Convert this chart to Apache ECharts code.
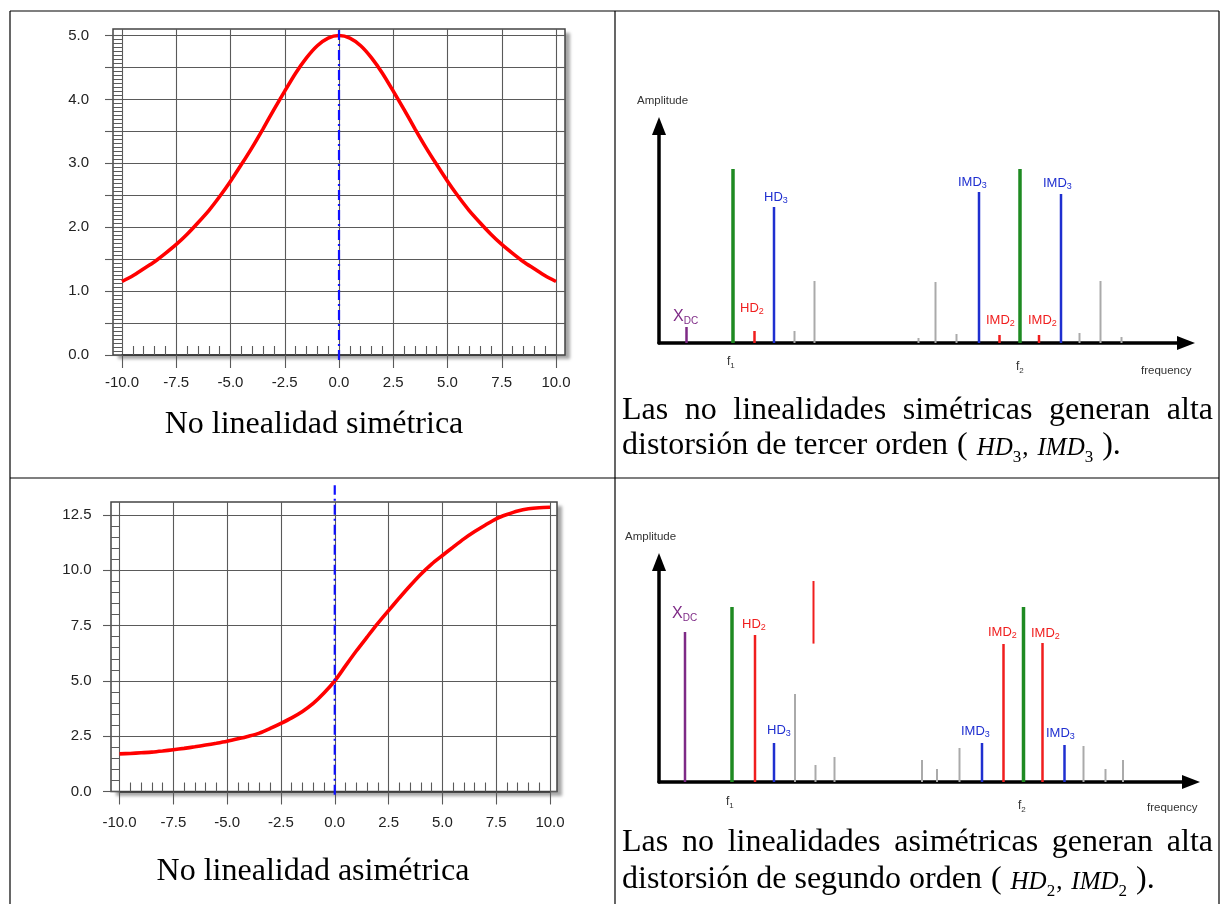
<!DOCTYPE html>
<html>
<head>
<meta charset="utf-8">
<script src="https://cdn.jsdelivr.net/npm/echarts@6/dist/echarts.min.js"></script>
<style>
  html, body { margin: 0; padding: 0; background: #fff; }
  #chart { width: 1221px; height: 904px; }
</style>
</head>
<body>
<div id="chart"></div>
<script>
// ---- transfer curves (input x, output y) ----
const xSamples = [
  -10, -9.5, -9, -8.5, -8, -7.5, -7, -6.5, -6, -5.5, -5, -4.5, -4, -3.5, -3, -2.5, -2, -1.5, -1, -0.5,
  0, 0.5, 1, 1.5, 2, 2.5, 3, 3.5, 4, 4.5, 5, 5.5, 6, 6.5, 7, 7.5, 8, 8.5, 9, 9.5, 10
];
const symmetricCurve = [
  1.15, 1.24, 1.35, 1.46, 1.59, 1.73, 1.89, 2.07, 2.26, 2.48, 2.72, 2.98, 3.25, 3.54, 3.84, 4.13, 4.41, 4.65, 4.84, 4.96,
  5.00, 4.96, 4.84, 4.65, 4.41, 4.13, 3.84, 3.54, 3.25, 2.98, 2.72, 2.48, 2.26, 2.07, 1.89, 1.73, 1.59, 1.46, 1.35, 1.24, 1.15
];
const asymmetricCurve = [
  1.70, 1.72, 1.75, 1.78, 1.83, 1.89, 1.95, 2.02, 2.10, 2.18, 2.27, 2.38, 2.50, 2.64, 2.85, 3.08, 3.33, 3.62, 3.98, 4.45,
  5.00, 5.68, 6.35, 6.98, 7.60, 8.18, 8.75, 9.30, 9.82, 10.28, 10.67, 11.05, 11.42, 11.75, 12.05, 12.33, 12.52, 12.68, 12.78, 12.83, 12.85
];
// operating point marker (x = 0), spanning slightly past the plot
const symMarker = [[0, -0.08], [0, 5.09]];
const asymMarker = [[0, -0.15], [0, 13.85]];

// tick labels
const xTickLabels = ['-10.0', '-7.5', '-5.0', '-2.5', '0.0', '2.5', '5.0', '7.5', '10.0'];
const symYTickLabels = ['0.0', '1.0', '2.0', '3.0', '4.0', '5.0'];
const asymYTickLabels = ['0.0', '2.5', '5.0', '7.5', '10.0', '12.5'];

// ---- output spectra: [frequency, amplitude] ----
const symDC = [[5.5, 8]];
const symFundamentals = [[14.8, 87], [72.2, 87]];
const symSecondOrder = [[19.1, 6], [68.1, 4], [76.0, 4]];
const symThirdOrder = [[23.0, 68], [64.0, 75.5], [80.4, 74.5]];
const symSpurs = [[27.1, 6], [31.1, 31], [51.9, 2.5], [55.3, 30.5], [59.5, 4.5], [84.1, 5], [88.3, 31], [92.5, 3]];

const asymDC = [[5.2, 75]];
const asymFundamentals = [[14.6, 87.5], [72.9, 87.5]];
const asymSecondOrder = [[19.2, 73.5], [68.9, 69], [76.7, 69.5]];
const asymSecondOrderFloat = [[30.9, 100.5, 69.2]]; // [frequency, top, bottom]
const asymThirdOrder = [[23.0, 19.5], [64.6, 19.5], [81.1, 18.5]];
const asymSpurs = [[27.2, 44], [31.3, 8.5], [35.1, 12.5], [52.6, 11], [55.6, 6.5], [60.1, 17], [84.9, 18], [89.3, 6.5], [92.8, 11]];

// ---- texts ----
const captionSym = 'No linealidad simétrica';
const captionAsym = 'No linealidad asimétrica';
const noteSymLine1 = 'Las no linealidades simétricas generan alta';
const noteSymLine2 = ['distorsión de tercer orden', '(', 'HD', '3', ',', 'IMD', '3', ').'];
const noteAsymLine1 = 'Las no linealidades asimétricas generan alta';
const noteAsymLine2 = ['distorsión de segundo orden', '(', 'HD', '2', ',', 'IMD', '2', ').'];

// ---- colours ----
const C_GREEN = '#1e8a22';
const C_RED = '#f01e1e';
const C_BLUE = '#1f2fd0';
const C_PURPLE = '#7e2a86';
const C_GRAY = '#aaaaaa';
const GRID_COL = '#5a5a5a';
const SANS = '"Liberation Sans", Arial, sans-serif';
const SERIF = '"Liberation Serif", "Times New Roman", serif';

const zipXY = (xs, ys) => xs.map((x, i) => [x, ys[i]]);

function labelFrom(list, v, step, start) {
  const i = Math.round((v - start) / step);
  return Math.abs(start + i * step - v) < 1e-6 && list[i] !== undefined ? list[i] : '';
}

const option = {
  animation: false,
  backgroundColor: '#fff',
  grid: [],
  xAxis: [],
  yAxis: [],
  series: [],
  graphic: []
};

function hiddenAxes(gi) {
  option.xAxis.push({ gridIndex: gi, type: 'value', show: false, min: 0, max: 1 });
  option.yAxis.push({ gridIndex: gi, type: 'value', show: false, min: 0, max: 1 });
}

// ---- transfer-curve panels ----
function addCurvePanel(cfg) {
  const box = { left: cfg.frame[0], top: cfg.frame[1], width: cfg.frame[2] - cfg.frame[0], height: cfg.frame[3] - cfg.frame[1] };
  const gShadow = option.grid.length, gBorder = gShadow + 1, gData = gShadow + 2;
  option.grid.push(
    // white panel casting a soft drop shadow
    Object.assign({ show: true, backgroundColor: '#fff', borderWidth: 0,
      shadowColor: 'rgba(0,0,0,0.35)', shadowBlur: 3, shadowOffsetX: 5, shadowOffsetY: 4, z: 0 }, box),
    // plain frame outline
    Object.assign({ show: true, backgroundColor: 'transparent', borderColor: '#444', borderWidth: 1.5, z: 1 }, box),
    { left: cfg.data[0], top: cfg.data[1], width: cfg.data[2] - cfg.data[0], height: cfg.data[3] - cfg.data[1], z: 1 }
  );
  hiddenAxes(gShadow);
  hiddenAxes(gBorder);
  const xi = option.xAxis.length, yi = option.yAxis.length;
  const tickStyle = { color: GRID_COL, width: 1.1 };
  const labelStyle = { color: '#222', fontSize: 15, fontFamily: SANS };
  const noLine = { show: false, onZero: false };
  // main x axis
  option.xAxis.push({
    gridIndex: gData, type: 'value', position: 'bottom', min: -10, max: 10, interval: 2.5, z: 3,
    axisLine: { show: true, onZero: false, lineStyle: { color: '#333', width: 1.5 } },
    axisTick: { show: true, length: 13, lineStyle: tickStyle },
    axisLabel: Object.assign({ margin: cfg.xLabelMargin, formatter: v => labelFrom(xTickLabels, v, 2.5, -10) }, labelStyle),
    splitLine: { show: true, lineStyle: tickStyle }
  });
  // vertical grid lines continue up to the frame
  option.xAxis.push({
    gridIndex: gData, type: 'value', position: 'top', min: -10, max: 10, interval: 2.5, z: 3,
    axisLine: noLine, axisLabel: { show: false }, splitLine: { show: false },
    axisTick: { show: true, length: cfg.data[1] - cfg.frame[1], lineStyle: tickStyle }
  });
  // short inner ticks along the bottom
  option.xAxis.push({
    gridIndex: gData, type: 'value', position: 'bottom', min: -10, max: 10, interval: 2.5, z: 3,
    axisLine: noLine, axisLabel: { show: false }, splitLine: { show: false },
    axisTick: { show: false, inside: true },
    minorTick: { show: true, splitNumber: 5, length: 9, lineStyle: tickStyle }
  });
  // main y axis with the ladder of minor ticks
  option.yAxis.push({
    gridIndex: gData, type: 'value', position: 'left', min: 0, max: cfg.yMax, interval: cfg.yInterval, z: 3,
    axisLine: noLine,
    axisTick: { show: true, length: cfg.data[0] - cfg.frame[0] + 8, lineStyle: tickStyle },
    minorTick: { show: true, splitNumber: cfg.yMinorSplit, length: cfg.data[0] - cfg.frame[0], lineStyle: { color: GRID_COL, width: 1 } },
    axisLabel: Object.assign({ margin: cfg.yLabelMargin, formatter: v => labelFrom(cfg.yLabels, v, cfg.yLabelStep, 0) }, labelStyle),
    splitLine: { show: true, lineStyle: tickStyle }
  });
  // horizontal grid lines continue to the right frame
  option.yAxis.push({
    gridIndex: gData, type: 'value', position: 'right', min: 0, max: cfg.yMax, interval: cfg.yInterval, z: 3,
    axisLine: noLine, axisLabel: { show: false }, splitLine: { show: false },
    axisTick: { show: true, length: cfg.frame[2] - cfg.data[2], lineStyle: tickStyle }
  });
  option.series.push({
    type: 'line', xAxisIndex: xi, yAxisIndex: yi, data: zipXY(xSamples, cfg.curve),
    showSymbol: false, smooth: 0.25, clip: false, z: 5,
    lineStyle: { color: '#ff0000', width: 3.6 }
  });
  option.series.push({
    type: 'line', xAxisIndex: xi, yAxisIndex: yi, data: cfg.marker,
    showSymbol: false, clip: false, z: 6,
    lineStyle: { color: '#1010ff', width: 2.2, type: [10, 4, 2, 4] }
  });
}

addCurvePanel({
  frame: [113, 29, 565, 355], data: [122, 35.5, 556, 355],
  yMax: 5, yInterval: 0.5, yMinorSplit: 8, yLabels: symYTickLabels, yLabelStep: 1,
  xLabelMargin: 20, yLabelMargin: 33, curve: symmetricCurve, marker: symMarker
});
addCurvePanel({
  frame: [111, 502, 557, 791.5], data: [119.5, 515, 550, 791.5],
  yMax: 12.5, yInterval: 2.5, yMinorSplit: 5, yLabels: asymYTickLabels, yLabelStep: 2.5,
  xLabelMargin: 24, yLabelMargin: 28, curve: asymmetricCurve, marker: asymMarker
});

// ---- spectrum panels ----
function stemRenderer(color, width, floating) {
  return function (params, api) {
    const f = api.value(0);
    const top = api.value(1);
    const bottom = floating ? api.value(2) : 0;
    const p0 = api.coord([f, bottom]);
    const p1 = api.coord([f, top]);
    return {
      type: 'line',
      shape: { x1: p0[0], y1: p0[1], x2: p1[0], y2: p1[1] },
      style: { stroke: color, lineWidth: width }
    };
  };
}

function addSpectrumPanel(cfg) {
  const gi = option.grid.length;
  option.grid.push({ left: cfg.left, top: cfg.top, width: cfg.width, height: cfg.height });
  const xi = option.xAxis.length, yi = option.yAxis.length;
  const axisLine = {
    show: true, onZero: false, symbol: ['none', 'triangle'], symbolSize: [14, 18],
    lineStyle: { color: '#000', width: 3.5 }
  };
  option.xAxis.push({ gridIndex: gi, type: 'value', min: 0, max: cfg.fMax, axisLine,
    axisTick: { show: false }, axisLabel: { show: false }, splitLine: { show: false } });
  option.yAxis.push({ gridIndex: gi, type: 'value', min: 0, max: cfg.aMax, axisLine,
    axisTick: { show: false }, axisLabel: { show: false }, splitLine: { show: false } });
  const groups = [
    [cfg.spurs, C_GRAY, 2],
    [cfg.dc, C_PURPLE, 2.5],
    [cfg.second, C_RED, 2.5],
    [cfg.third, C_BLUE, 2.5],
    [cfg.fund, C_GREEN, 3.5]
  ];
  groups.forEach(([data, color, w]) => {
    option.series.push({
      type: 'custom', xAxisIndex: xi, yAxisIndex: yi, data, clip: false, z: 4,
      encode: { x: 0, y: 1 }, renderItem: stemRenderer(color, w, false)
    });
  });
  if (cfg.floating) {
    option.series.push({
      type: 'custom', xAxisIndex: xi, yAxisIndex: yi, data: cfg.floating, clip: false, z: 4,
      encode: { x: 0, y: [1, 2] }, renderItem: stemRenderer(C_RED, 2, true)
    });
  }
}

addSpectrumPanel({
  left: 659, top: 126, width: 527, height: 217, fMax: 105.4, aMax: 108.5,
  spurs: symSpurs, dc: symDC, second: symSecondOrder, third: symThirdOrder, fund: symFundamentals
});
addSpectrumPanel({
  left: 659, top: 562, width: 532, height: 220, fMax: 106.4, aMax: 110,
  spurs: asymSpurs, dc: asymDC, second: asymSecondOrder, third: asymThirdOrder, fund: asymFundamentals,
  floating: asymSecondOrderFloat
});

// ---- annotations ----
function subText(x, y, main, sub, color, size, subSize) {
  return {
    type: 'text', x, y, z: 10,
    style: {
      text: '{m|' + main + '}{s|' + sub + '}', fill: color, verticalAlign: 'middle',
      rich: {
        m: { fontSize: size, fontFamily: SANS, lineHeight: size + 3, verticalAlign: 'middle' },
        s: { fontSize: subSize, fontFamily: SANS, lineHeight: 6, verticalAlign: 'bottom' }
      }
    }
  };
}
function plainText(x, y, text, color, size) {
  return { type: 'text', x, y, z: 10,
    style: { text, fill: color, fontSize: size, fontFamily: SANS, verticalAlign: 'middle' } };
}

option.graphic.push(
  plainText(637, 101, 'Amplitude', '#333', 11.5),
  subText(673, 317, 'X', 'DC', C_PURPLE, 16, 10),
  subText(740, 308, 'HD', '2', C_RED, 13, 9),
  subText(764, 197, 'HD', '3', C_BLUE, 13, 9),
  subText(958, 182, 'IMD', '3', C_BLUE, 13, 9),
  subText(986, 320, 'IMD', '2', C_RED, 13, 9),
  subText(1028, 320, 'IMD', '2', C_RED, 13, 9),
  subText(1043, 183, 'IMD', '3', C_BLUE, 13, 9),
  subText(727, 362, 'f', '1', '#333', 12, 8),
  subText(1016, 367, 'f', '2', '#333', 12, 8),
  plainText(1141, 371, 'frequency', '#333', 11.5),

  plainText(625, 537, 'Amplitude', '#333', 11.5),
  subText(672, 614, 'X', 'DC', C_PURPLE, 16, 10),
  subText(742, 624, 'HD', '2', C_RED, 13, 9),
  subText(767, 730, 'HD', '3', C_BLUE, 13, 9),
  subText(961, 731, 'IMD', '3', C_BLUE, 13, 9),
  subText(988, 632, 'IMD', '2', C_RED, 13, 9),
  subText(1031, 633, 'IMD', '2', C_RED, 13, 9),
  subText(1046, 733, 'IMD', '3', C_BLUE, 13, 9),
  subText(726, 802, 'f', '1', '#333', 12, 8),
  subText(1018, 806, 'f', '2', '#333', 12, 8),
  plainText(1147, 808, 'frequency', '#333', 11.5)
);

// captions under the transfer curves
const CAP_SIZE = 32;
option.graphic.push(
  { type: 'text', x: 314, y: 425, z: 10,
    style: { text: captionSym, fill: '#000', fontSize: CAP_SIZE, fontFamily: SERIF, align: 'center', verticalAlign: 'middle' } },
  { type: 'text', x: 313, y: 872, z: 10,
    style: { text: captionAsym, fill: '#000', fontSize: CAP_SIZE, fontFamily: SERIF, align: 'center', verticalAlign: 'middle' } }
);

// notes: justified first line, then a line with an inline formula
const measureCtx = document.createElement('canvas').getContext('2d');
function textWidth(t, size, italic) {
  measureCtx.font = (italic ? 'italic ' : '') + size + 'px ' + SERIF;
  return measureCtx.measureText(t).width;
}
function serifText(x, y, text, size, italic) {
  return { type: 'text', x, y, z: 10,
    style: { text, fill: '#000', fontSize: size, fontFamily: SERIF, fontStyle: italic ? 'italic' : 'normal', verticalAlign: 'middle' } };
}
function justifiedLine(text, x0, x1, y, size) {
  const words = text.split(' ');
  const widths = words.map(w => textWidth(w, size));
  const total = widths.reduce((a, b) => a + b, 0);
  const gap = (x1 - x0 - total) / (words.length - 1);
  let x = x0;
  return words.map((w, i) => {
    const el = serifText(x, y, w, size);
    x += widths[i] + gap;
    return el;
  });
}
// middle-anchored text: baseline sits about 0.34 em below the anchor
const MID_TO_BASE = 0.34;
function formulaLine(parts, x0, y, size) {
  const itSize = 25, subSize = 17, space = size * 0.28;
  const [lead, open, a, aSub, comma, b, bSub, close] = parts;
  const out = [];
  let x = x0;
  const put = (t, s, italic, dy, gapAfter) => {
    out.push(serifText(x, y + dy, t, s, italic));
    x += textWidth(t, s, italic) + gapAfter;
  };
  const itDy = MID_TO_BASE * (size - itSize);
  const subDy = MID_TO_BASE * (size - subSize) + 6;
  put(lead, size, false, 0, space);
  put(open, size, false, 0, space);
  put(a, itSize, true, itDy, 0);
  put(aSub, subSize, false, subDy, 1);
  put(comma, itSize, false, itDy, space);
  put(b, itSize, true, itDy, 0);
  put(bSub, subSize, false, subDy, space);
  put(close, size, false, 0, 0);
  return out;
}
option.graphic.push(
  ...justifiedLine(noteSymLine1, 622, 1213, 411, CAP_SIZE),
  ...formulaLine(noteSymLine2, 622, 446, CAP_SIZE),
  ...justifiedLine(noteAsymLine1, 622, 1213, 843, CAP_SIZE),
  ...formulaLine(noteAsymLine2, 622, 880, CAP_SIZE)
);

// table rules
const rule = (x1, y1, x2, y2) => ({ type: 'line', z: 10, shape: { x1, y1, x2, y2 }, style: { stroke: '#000', lineWidth: 1.2 } });
option.graphic.push(
  rule(10, 11, 1219, 11),
  rule(10, 478, 1219, 478),
  rule(10, 11, 10, 904),
  rule(615, 11, 615, 904),
  rule(1219, 11, 1219, 904)
);

const chart = echarts.init(document.getElementById('chart'), null, { renderer: 'canvas' });
chart.setOption(option);
</script>
</body>
</html>
